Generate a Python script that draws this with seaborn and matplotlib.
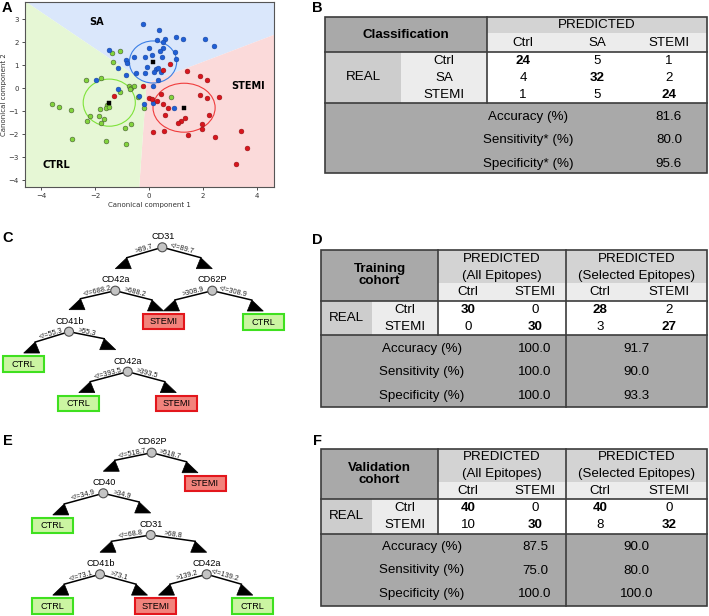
import numpy as np
import pandas as pd
import matplotlib
matplotlib.use("Agg")
import matplotlib.pyplot as plt
import seaborn as sns
from matplotlib.patches import Rectangle, Polygon, Ellipse, Circle

# ---------------- Panel A data (canonical scores) ----------------
ctrl_x = [-1.38, -1.07, -1.32, -2.33, -1.77, -1.07, -0.73, -0.68, -0.54, -0.42, -0.17, 0.80,
          -3.60, -3.33, -2.90, -1.81, -1.56, -1.60, -2.19, -1.86, -1.65, -2.28, -1.79, -0.89,
          -0.65, -2.86, -1.60, -0.84, -0.72, -1.49]
ctrl_y = [1.55, 1.61, 1.13, 0.37, 0.44, -0.18, 0.11, 0.01, 0.11, -0.37, -0.88, -0.38,
          -0.67, -0.83, -0.95, -0.89, -0.73, -0.86, -1.21, -1.20, -1.33, -1.44, -1.52, -1.75,
          -1.58, -2.19, -2.29, -2.45, -0.05, -0.83]
sa_x = [-0.21, 0.37, 0.99, 1.25, 2.06, 2.41, 0.60, 0.53, 0.30, -1.47, 0.01, 0.52, 0.41, 0.11,
        0.98, -0.57, -0.14, 0.49, 1.01, -0.85, -0.80, -1.14, -0.49, -0.16, 0.26, 0.33, 0.20,
        0.44, -0.85, 0.32, -1.95, 0.15, -1.14, -0.36, -0.17, 0.14, 0.93, -0.09]
sa_y = [2.81, 2.52, 2.23, 2.13, 2.16, 1.84, 2.16, 2.03, 2.08, 1.66, 1.74, 1.77, 1.63, 1.46,
        1.56, 1.36, 1.36, 1.36, 1.27, 1.23, 1.11, 0.89, 0.66, 0.66, 0.84, 0.89, 0.69,
        0.72, 0.56, 0.34, 0.36, 0.10, -0.04, -0.33, -0.69, -0.63, -0.85, 0.94]
stemi_x = [0.79, 0.53, 1.42, 1.90, 2.16, -0.23, -1.28, 0.01, 0.12, 0.30, 0.44, 0.52, 1.88, 2.15,
           2.58, 0.69, 0.60, 2.22, 1.33, 1.17, 1.06, 1.96, 1.98, 0.14, 0.54, 1.43, 2.43, 3.40,
           3.62, 3.22]
stemi_y = [1.07, 0.79, 0.73, 0.55, 0.34, 0.11, -0.36, -0.41, -0.49, -0.56, -0.25, -0.67, -0.28,
           -0.41, -0.38, -0.85, -1.18, -1.17, -1.30, -1.42, -1.50, -1.55, -1.76, -1.91, -1.88,
           -2.05, -2.13, -1.87, -2.62, -3.29]
class_names = ["CTRL", "SA", "STEMI"]
centroid_x = [-1.47, 0.15, 1.30]
centroid_y = [-0.63, 1.14, -0.85]
ellipse_w = [1.93, 1.75, 2.30]
ellipse_h = [2.05, 1.83, 2.13]
# decision-region boundary: meeting point and the three border end points
region_meet = (-0.09, 0.21)
boundary_ctrl_sa = (-4.55, 3.75)
boundary_sa_stemi = (4.63, 2.32)
boundary_stemi_ctrl = (-0.36, -4.3)

# ---------------- Panel B data ----------------
cls_labels = ["Ctrl", "SA", "STEMI"]
cls_matrix = [[24, 5, 1], [4, 32, 2], [1, 5, 24]]
cls_metric_names = ["Accuracy (%)", "Sensitivity* (%)", "Specificity* (%)"]
cls_metric_values = [81.6, 80.0, 95.6]

# ---------------- Panels D / F data ----------------
bin_labels = ["Ctrl", "STEMI"]
metric_names = ["Accuracy (%)", "Sensitivity (%)", "Specificity (%)"]
train_all = [[30, 0], [0, 30]]
train_sel = [[28, 2], [3, 27]]
train_metrics_all = [100.0, 100.0, 100.0]
train_metrics_sel = [91.7, 90.0, 93.3]
val_all = [[40, 0], [10, 30]]
val_sel = [[40, 0], [8, 32]]
val_metrics_all = [87.5, 75.0, 100.0]
val_metrics_sel = [90.0, 80.0, 100.0]

# ---------------- Panels C / E: decision trees ----------------
C_splits = {"n1": ("CD31", 89.7), "n2": ("CD42a", 688.2), "n3": ("CD62P", 308.9),
            "n4": ("CD41b", 55.3), "n5": ("CD42a", 393.5)}
C_leaves = {"l1": "STEMI", "l2": "CTRL", "l3": "CTRL", "l4": "CTRL", "l5": "STEMI"}
C_edges = [("n1", "n2", ">"), ("n1", "n3", "<="), ("n2", "n4", "<="), ("n2", "l1", ">"),
           ("n3", "l1", ">"), ("n3", "l2", "<="), ("n4", "l3", "<="), ("n4", "n5", ">"),
           ("n5", "l4", "<="), ("n5", "l5", ">")]
E_splits = {"m1": ("CD62P", 518.7), "m2": ("CD40", 34.9), "m3": ("CD31", 68.8),
            "m4": ("CD41b", 73.1), "m5": ("CD42a", 139.2)}
E_leaves = {"k1": "STEMI", "k2": "CTRL", "k3": "CTRL", "k4": "STEMI", "k5": "CTRL"}
E_edges = [("m1", "m2", "<="), ("m1", "k1", ">"), ("m2", "k2", "<="), ("m2", "m3", ">"),
           ("m3", "m4", "<="), ("m3", "m5", ">"), ("m4", "k3", "<="), ("m4", "k4", ">"),
           ("m5", "k4", ">"), ("m5", "k5", "<=")]

# ---------------- layout (pixels) ----------------
C_pos = {"n1": (162.3, 247.3), "n2": (115.3, 290.7), "n3": (212.3, 290.7), "n4": (69, 331.7),
         "n5": (127.7, 371.7), "l1": (163.5, 321.7), "l2": (263.3, 321.8), "l3": (23.7, 363.8),
         "l4": (78.8, 403.4), "l5": (176.3, 403.4)}
C_shift = {("n4", "n5"): -12}
E_pos = {"m1": (151.7, 452.7), "m2": (103.3, 493.3), "m3": (150.7, 535), "m4": (100, 574.3),
         "m5": (206.7, 574.3), "k1": (205, 483.5), "k2": (52.8, 525.7), "k3": (52.8, 605.9),
         "k4": (155.5, 605.9), "k5": (252.8, 605.9)}
E_shift = {("m1", "k1"): -7, ("m4", "k4"): -8, ("m5", "k4"): 3}

W, H = 709, 616
TF = "Liberation Sans"
DARK, MID, LIGHT, REALC, LINE = "#a9a9a9", "#d3d3d3", "#ececec", "#cdcdcd", "#3c3c3c"

fig = plt.figure(figsize=(W / 100, H / 100), dpi=100)
ax0 = fig.add_axes([0, 0, 1, 1])
ax0.set_xlim(0, W)
ax0.set_ylim(H, 0)
ax0.axis("off")

# ================= Panel A =================
axA = fig.add_axes([25 / W, 1 - 187 / H, 249 / W, 185 / H])
xl, yl = (-4.59, 4.63), (-4.3, 3.75)
reg_sa = [region_meet, boundary_ctrl_sa, (xl[1] + 1, yl[1] + 1), (xl[1] + 1, boundary_sa_stemi[1]), boundary_sa_stemi]
reg_stemi = [region_meet, boundary_sa_stemi, (xl[1] + 1, boundary_sa_stemi[1]), (xl[1] + 1, yl[0] - 1),
             (boundary_stemi_ctrl[0], yl[0] - 1), boundary_stemi_ctrl]
reg_ctrl = [region_meet, boundary_stemi_ctrl, (boundary_stemi_ctrl[0], yl[0] - 1), (xl[0] - 1, yl[0] - 1),
            (xl[0] - 1, yl[1] + 1), boundary_ctrl_sa]
for poly, col in [(reg_sa, "#dae7fb"), (reg_stemi, "#fbdada"), (reg_ctrl, "#e6f7d5")]:
    axA.add_patch(Polygon(poly, closed=True, facecolor=col, edgecolor="none", zorder=0))

df = pd.DataFrame({
    "cc1": ctrl_x + sa_x + stemi_x,
    "cc2": ctrl_y + sa_y + stemi_y,
    "group": ["CTRL"] * len(ctrl_x) + ["SA"] * len(sa_x) + ["STEMI"] * len(stemi_x),
})
pal = {"CTRL": "#82d43c", "SA": "#1f5fd6", "STEMI": "#d8151d"}
edge = {"CTRL": "#3d4a30", "SA": "#17439a", "STEMI": "#8e1014"}
for g in class_names:
    sns.scatterplot(data=df[df.group == g], x="cc1", y="cc2", color=pal[g], s=12,
                    edgecolor=edge[g], linewidth=0.35, legend=False, ax=axA, zorder=3)
ell_col = {"CTRL": "#7fe33a", "SA": "#3b7fe6", "STEMI": "#f03c3c"}
for i, g in enumerate(class_names):
    axA.add_patch(Ellipse((centroid_x[i], centroid_y[i]), ellipse_w[i], ellipse_h[i],
                          fill=False, ec=ell_col[g], lw=0.8, zorder=2))
sns.scatterplot(x=centroid_x, y=centroid_y, marker="s", color="black", s=9,
                edgecolor="black", linewidth=0.3, ax=axA, zorder=4, legend=False)
axA.text(-1.94, 2.9, "SA", fontsize=7, fontweight="bold", ha="center", va="center")
axA.text(3.68, 0.1, "STEMI", fontsize=7, fontweight="bold", ha="center", va="center")
axA.text(-3.42, -3.35, "CTRL", fontsize=7, fontweight="bold", ha="center", va="center")
axA.set_xlim(xl)
axA.set_ylim(yl)
axA.set_xticks([-4, -2, 0, 2, 4])
axA.set_yticks([-4, -3, -2, -1, 0, 1, 2, 3])
axA.tick_params(labelsize=5, length=2.5, width=0.6, pad=2, colors="#333333")
axA.set_xlabel("Canonical component 1", fontsize=5, labelpad=2, color="#333333")
axA.set_ylabel("Canonical component 2", fontsize=5, labelpad=1, color="#333333")
for s in axA.spines.values():
    s.set_color("#555555")
    s.set_linewidth(0.8)


# ================= table helpers =================
def cell(x0, x1, y0, y1, color):
    ax0.add_patch(Rectangle((x0, y0), x1 - x0, y1 - y0, facecolor=color, edgecolor="none", zorder=1))


def hline(y, x0, x1):
    ax0.plot([x0, x1], [y, y], color=LINE, lw=1.2, zorder=3, solid_capstyle="projecting")


def vline(x, y0, y1):
    ax0.plot([x, x], [y0, y1], color=LINE, lw=1.2, zorder=3, solid_capstyle="projecting")


def txt(x, y, s, bold=False, size=9.6, **kw):
    ax0.text(x, y, s, ha="center", va="center", fontsize=size, family=TF,
             fontweight="bold" if bold else "normal", zorder=4, **kw)


def border(x0, x1, y0, y1):
    ax0.add_patch(Rectangle((x0, y0), x1 - x0, y1 - y0, facecolor="none", edgecolor=LINE, lw=1.2, zorder=3))


MET_OFF = [13.7, 37.0, 60.7]

# ================= Panel B =================
bx = [325, 401, 487, 560, 633, 707]
bt, bs, bh, bd, bb = 17, 33, 52, 103, 173
cell(bx[0], bx[2], bt, bh, DARK)
cell(bx[2], bx[5], bt, bs, MID)
cell(bx[2], bx[5], bs, bh, LIGHT)
cell(bx[0], bx[1], bh, bd, REALC)
cell(bx[1], bx[2], bh, bd, LIGHT)
cell(bx[2], bx[5], bh, bd, "white")
cell(bx[0], bx[5], bd, bb, DARK)
border(bx[0], bx[5], bt, bb)
hline(bh, bx[0], bx[5])
hline(bd, bx[0], bx[5])
vline(bx[2], bt, bd)
txt((bx[0] + bx[2]) / 2, (bt + bh) / 2, "Classification", bold=True)
txt((bx[2] + bx[5]) / 2, 25.5, "PREDICTED")
bcols = [523, 597, 669]
for j, lab in enumerate(cls_labels):
    txt(bcols[j], 43, lab)
rh = (bd - bh) / 3
for i, lab in enumerate(cls_labels):
    yy = bh + rh * (i + 0.5) + 0.5
    txt(444, yy, lab)
    for j in range(3):
        txt(bcols[j], yy, str(cls_matrix[i][j]), bold=(i == j))
txt(363, (bh + bd) / 2, "REAL")
for k, name in enumerate(cls_metric_names):
    txt(528, bd + MET_OFF[k], name)
    txt(669, bd + MET_OFF[k], f"{cls_metric_values[k]:.1f}")


# ================= Panels D & F =================
def cohort_table(top, title, m_all, m_sel, met_all, met_sel):
    xs = [321, 372, 438, 502, 566, 636, 707]
    sub, hb, db, bot = top + 33, top + 50.5, top + 85, top + 157
    cell(xs[0], xs[2], top, hb, DARK)
    cell(xs[2], xs[6], top, sub, MID)
    cell(xs[2], xs[6], sub, hb, LIGHT)
    cell(xs[0], xs[1], hb, db, REALC)
    cell(xs[1], xs[2], hb, db, LIGHT)
    cell(xs[2], xs[6], hb, db, "white")
    cell(xs[0], xs[6], db, bot, DARK)
    border(xs[0], xs[6], top, bot)
    hline(hb, xs[0], xs[6])
    hline(db, xs[0], xs[6])
    vline(xs[2], top, db)
    vline(xs[4], top, bot)
    txt((xs[0] + xs[2]) / 2, (top + hb) / 2, title, bold=True, linespacing=1.05)
    for x0, x1, name in [(xs[2], xs[4], "(All Epitopes)"), (xs[4], xs[6], "(Selected Epitopes)")]:
        txt((x0 + x1) / 2, top + 8.5, "PREDICTED")
        txt((x0 + x1) / 2, top + 25.5, name)
    cols = [468, 535, 600, 669]
    for j, lab in enumerate(bin_labels * 2):
        txt(cols[j], (sub + hb) / 2 + 0.5, lab)
    rh2 = (db - hb) / 2
    for i, lab in enumerate(bin_labels):
        yy = hb + rh2 * (i + 0.5) + 0.5
        txt(405, yy, lab)
        for j in range(2):
            txt(cols[j], yy, str(m_all[i][j]), bold=(i == j))
            txt(cols[j + 2], yy, str(m_sel[i][j]), bold=(i == j))
    txt((xs[0] + xs[1]) / 2, (hb + db) / 2, "REAL")
    for k, name in enumerate(metric_names):
        txt(421.7, db + MET_OFF[k], name)
        txt(535, db + MET_OFF[k], f"{met_all[k]:.1f}")
        txt(636.5, db + MET_OFF[k], f"{met_sel[k]:.1f}")


cohort_table(250, "Training\ncohort", train_all, train_sel, train_metrics_all, train_metrics_sel)
cohort_table(448.5, "Validation\ncohort", val_all, val_sel, val_metrics_all, val_metrics_sel)

# ================= Panels C & E: trees =================
BOX_W, BOX_H = 41, 15.5
TRI_W, TRI_H = 16, 11
leaf_style = {"STEMI": ("#f2837c", "#e3161c"), "CTRL": ("#cbf5a2", "#3fe01f")}


def draw_tree(splits, leaves, edges, pos, shift):
    for (p, c, op) in edges:
        px, py = pos[p]
        cx, cy = pos[c]
        tip_x = cx + shift.get((p, c), 0)
        tip_y = cy - BOX_H / 2 - 3 if c in leaves else cy - 22
        sgn = 1 if cx < px else -1
        tri = [(tip_x, tip_y), (tip_x + sgn * 0.72 * TRI_W, tip_y - TRI_H), (tip_x + sgn * TRI_W, tip_y)]
        ex, ey = tri[1]
        ax0.add_patch(Polygon(tri, closed=True, facecolor="black", edgecolor="black", lw=0.5, zorder=5))
        ax0.plot([px, ex], [py, ey], color="black", lw=1.1, zorder=5)
        dx, dy = ex - px, ey - py
        L = np.hypot(dx, dy)
        nx, ny = dy / L, -dx / L
        if ny > 0:
            nx, ny = -nx, -ny
        ang = np.degrees(np.arctan2(-dy, dx))
        if ang > 90:
            ang -= 180
        if ang < -90:
            ang += 180
        lab = (">" if op == ">" else "</=") + f"{splits[p][1]}"
        ax0.text((px + ex) / 2 + 3.4 * nx, (py + ey) / 2 + 3.4 * ny, lab, fontsize=5.2, family=TF,
                 rotation=ang, rotation_mode="anchor", ha="center", va="center", zorder=6,
                 color="#222222")
    for n, (name, thr) in splits.items():
        x, y = pos[n]
        ax0.add_patch(Circle((x, y), 4.5, facecolor="#c4c4c4", edgecolor="#505050", lw=0.8, zorder=7))
        ax0.text(x + 0.5, y - 10.7, name, fontsize=6.6, family=TF, ha="center", va="center", zorder=7)
    for n, cls in leaves.items():
        x, y = pos[n]
        fc, ec = leaf_style[cls]
        ax0.add_patch(Rectangle((x - BOX_W / 2, y - BOX_H / 2), BOX_W, BOX_H, facecolor=fc,
                                edgecolor=ec, lw=1.5, zorder=7))
        ax0.text(x, y + 0.3, cls, fontsize=6.6, family=TF, ha="center", va="center", zorder=8)


draw_tree(C_splits, C_leaves, C_edges, C_pos, C_shift)
draw_tree(E_splits, E_leaves, E_edges, E_pos, E_shift)

# ================= panel letters =================
for letter, (x, y) in {"A": (7, 8), "B": (317, 8.5), "C": (8, 238), "D": (317.5, 240),
                       "E": (8, 441), "F": (318, 441)}.items():
    ax0.text(x, y, letter, fontsize=10.5, fontweight="bold", family=TF, ha="center", va="center")

fig.savefig("out.png", dpi=100, facecolor="white")
